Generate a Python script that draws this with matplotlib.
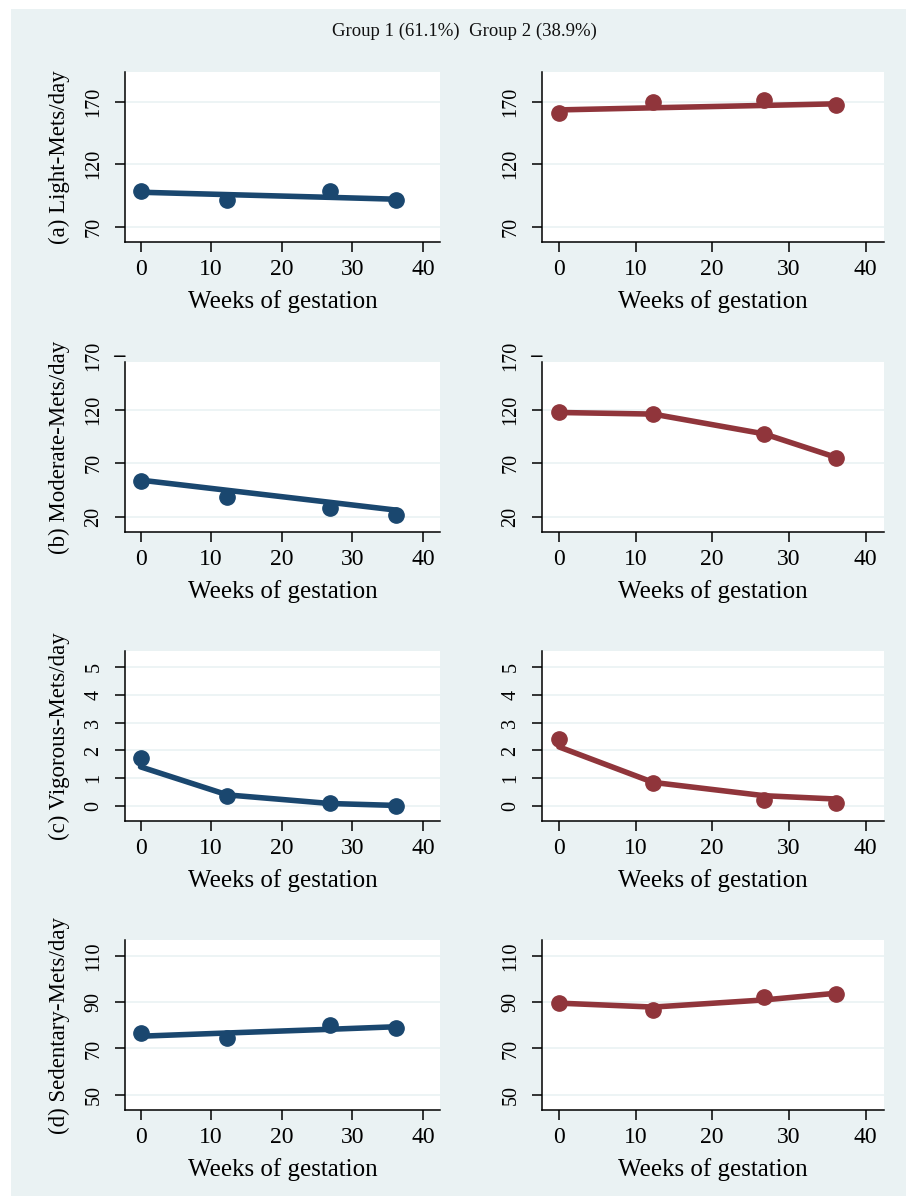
import matplotlib
matplotlib.use("Agg")
import matplotlib.pyplot as plt
import matplotlib.transforms as mtransforms
from matplotlib.patches import Rectangle

# ---------------- data ----------------
weeks = [0, 12.3, 26.8, 36.2]

light_g1_obs = [98.6, 91.4, 98.6, 91.4]
light_g1_fit = [97.6, 95.7, 93.5, 92.0]
light_g2_obs = [160.9, 169.8, 171.4, 167.4]
light_g2_fit = [163.6, 165.3, 167.2, 168.5]

moderate_g1_obs = [53.5, 38.8, 28.4, 22.2]
moderate_g1_fit = [54.4, 44.9, 33.7, 26.4]
moderate_g2_obs = [117.8, 115.9, 97.2, 75.2]
moderate_g2_fit = [117.5, 116.0, 97.5, 75.5]

vigorous_g1_obs = [1.74, 0.36, 0.10, 0.01]
vigorous_g1_fit = [1.41, 0.40, 0.09, 0.02]
vigorous_g2_obs = [2.40, 0.82, 0.22, 0.12]
vigorous_g2_fit = [2.13, 0.85, 0.37, 0.25]

sedentary_g1_obs = [76.6, 74.6, 80.1, 79.0]
sedentary_g1_fit = [75.3, 76.7, 78.3, 79.4]
sedentary_g2_obs = [89.8, 86.7, 92.2, 93.6]
sedentary_g2_fit = [89.6, 87.9, 91.0, 93.9]

row_labels = ["(a) Light-Mets/day", "(b) Moderate-Mets/day",
              "(c) Vigorous-Mets/day", "(d) Sedentary-Mets/day"]
row_yticks = [[70, 120, 170], [20, 70, 120, 170], [0, 1, 2, 3, 4, 5], [50, 70, 90, 110]]
row_ylims = [(57.7, 194), (6, 164.6), (-0.54, 5.58), (43.4, 116.9)]
xticks = [0, 10, 20, 30, 40]
xlabel = "Weeks of gestation"
title = "Group 1 (61.1%)  Group 2 (38.9%)"

rows = [
    (light_g1_obs, light_g1_fit, light_g2_obs, light_g2_fit),
    (moderate_g1_obs, moderate_g1_fit, moderate_g2_obs, moderate_g2_fit),
    (vigorous_g1_obs, vigorous_g1_fit, vigorous_g2_obs, vigorous_g2_fit),
    (sedentary_g1_obs, sedentary_g1_fit, sedentary_g2_obs, sedentary_g2_fit),
]

# ---------------- style ----------------
W, H = 906, 1197
DPI = 100
BG = "#eaf2f3"
NAVY = "#1a476f"
MAROON = "#90353b"
SERIF = ["Liberation Serif", "DejaVu Serif"]
plt.rcParams["font.family"] = SERIF
YTICK_FS = 14.5

fig = plt.figure(figsize=(W / DPI, H / DPI), dpi=DPI, facecolor="white")
fig.patches.append(Rectangle((11 / W, 1 / H), 1 - 11 / W, 1 - 10 / H,
                             transform=fig.transFigure, facecolor=BG,
                             edgecolor="none", zorder=-10))

fig.text(464 / W, 1 - 31 / H, title, ha="center", va="center", fontsize=13.5,
         color="#111111")

col_x = [(125, 440), (542, 884)]
row_y = [(72, 242), (362, 532), (651, 821), (940, 1110)]
colors = [NAVY, MAROON]

for r, (data, ylab, yt, yl) in enumerate(zip(rows, row_labels, row_yticks, row_ylims)):
    top, bot = row_y[r]
    for c in range(2):
        x0, x1 = col_x[c]
        ax = fig.add_axes([x0 / W, 1 - bot / H, (x1 - x0) / W, (bot - top) / H])
        ax.set_facecolor("white")
        obs = data[2 * c]
        fit = data[2 * c + 1]
        col = colors[c]
        ax.plot(weeks, obs, "o", color=col, markersize=11, zorder=3)
        ax.plot(weeks, fit, "-", color=col, linewidth=4, zorder=4,
                solid_capstyle="round")
        ax.set_xlim(-2.2, 42.4)
        ax.set_ylim(*yl)
        inside = [t for t in yt if yl[0] <= t <= yl[1]]
        outside = [t for t in yt if not (yl[0] <= t <= yl[1])]
        ax.set_yticks(inside)
        ax.set_xticks(xticks)
        for t in inside:
            ax.axhline(t, color=BG, linewidth=1.2, zorder=1)
        for s in ["top", "right"]:
            ax.spines[s].set_visible(False)
        for s in ["left", "bottom"]:
            ax.spines[s].set_linewidth(1.1)
            ax.spines[s].set_color("black")
        ax.tick_params(axis="x", length=7.5, width=1.1, pad=5, labelsize=17,
                       colors="black")
        ax.tick_params(axis="y", length=7.5, width=1.1, pad=8, labelsize=YTICK_FS,
                       colors="black", labelrotation=90)
        for lab in ax.get_yticklabels():
            lab.set_va("center")
        # ticks beyond the plot region (drawn outside the axis range)
        trans = mtransforms.blended_transform_factory(ax.transAxes, ax.transData)
        for t in outside:
            ax.annotate("", xy=(0, t), xycoords=trans, xytext=(-7.5, 0),
                        textcoords="offset points",
                        arrowprops=dict(arrowstyle="-", color="black", lw=1.1,
                                        shrinkA=0, shrinkB=0),
                        annotation_clip=False)
            ax.annotate(str(t), xy=(0, t), xycoords=trans, xytext=(-15.5, 0),
                        textcoords="offset points", rotation=90, ha="right",
                        va="center", fontsize=YTICK_FS, color="black",
                        annotation_clip=False)
        # x label
        fig.text((x0 + x1) / 2 / W, 1 - (bot + 60) / H, xlabel, ha="center",
                 va="center", fontsize=18, color="black")
        if c == 0:
            fig.text(59 / W, 1 - (top + bot) / 2 / H, ylab, rotation=90,
                     ha="center", va="center", fontsize=16.5, color="black")

fig.savefig("out.png", dpi=DPI, facecolor="white")
